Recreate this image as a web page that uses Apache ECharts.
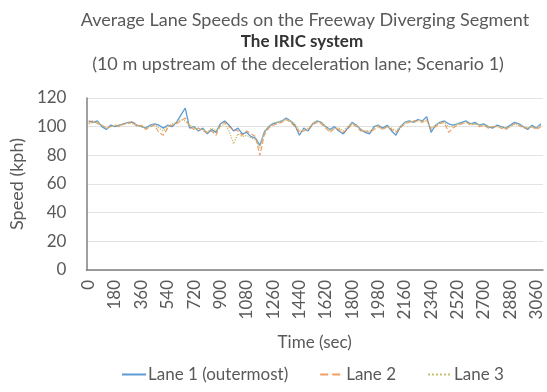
<!DOCTYPE html>
<html>
<head>
<meta charset="utf-8">
<script src="https://cdn.jsdelivr.net/npm/echarts@6/dist/echarts.min.js"></script>
<style>
  html, body { margin: 0; padding: 0; background: #fff; }
  #chart { width: 547px; height: 392px; }
</style>
</head>
<body>
<div id="chart"></div>
<script>
// Time axis: one sample every 30 s
const times = [];
for (let t = 0; t <= 3090; t += 30) times.push(String(t));

const yTicks = [0, 20, 40, 60, 80, 100, 120];

// Average speed per lane (kph)
const lane1 = [104,103,104,100,98,101,100,101,102,103,103,101,100,99,101,102,101,99,101,100,
  103,108,113,99,100,97,99,95,98,96,102,104,101,97,99,95,96,93,92,87,
  96,100,102,103,104,106,104,101,94,99,97,102,104,103,100,98,100,97,95,99,
  103,101,98,96,95,100,101,99,101,97,94,100,103,104,103,105,104,107,96,101,
  103,104,102,101,102,103,104,102,103,101,102,100,99,101,100,99,101,103,102,100,
  98,101,99,102];

const lane2 = [103,104,102,101,99,100,101,100,102,102,104,100,101,98,100,101,96,94,99,101,
  102,104,106,100,98,99,97,96,97,94,101,103,100,98,97,94,97,95,93,80,
  94,99,101,102,103,105,103,100,96,97,98,101,103,102,99,96,99,98,96,98,
  102,100,97,97,96,98,100,98,100,98,96,99,102,103,104,104,103,105,98,100,
  102,103,96,99,101,102,103,101,102,100,101,99,100,100,99,98,100,102,101,99,
  99,100,98,100];

const lane3 = [102,103,103,101,99,100,101,101,102,103,102,101,100,99,100,102,99,97,100,102,
  103,105,104,101,99,98,98,96,99,97,100,102,97,88,95,93,94,92,91,85,
  97,100,103,103,104,105,104,102,97,98,99,102,104,103,100,97,99,99,97,100,
  102,101,98,97,97,99,101,98,100,99,97,100,102,104,103,104,104,104,99,101,
  103,103,100,100,102,102,103,102,102,101,101,100,100,100,100,99,100,102,101,100,
  99,100,99,101];

const FONT = 'Lato';
const TXT = '#595959';

const chart = echarts.init(document.getElementById('chart'), null, { renderer: 'canvas' });

chart.setOption({
  animation: false,
  backgroundColor: '#ffffff',
  textStyle: { fontFamily: FONT },
  title: [
    { text: 'Average Lane Speeds on the Freeway Diverging Segment', left: 300, top: 6, textAlign: 'center',
      textStyle: { fontFamily: FONT, fontSize: 18, fontWeight: 'normal', color: TXT } },
    { text: 'The IRIC system', left: 297, top: 28, textAlign: 'center',
      textStyle: { fontFamily: FONT, fontSize: 17, fontWeight: 'bold', color: '#333' } },
    { text: '(10 m upstream of the deceleration lane; Scenario 1)', left: 293, top: 50, textAlign: 'center',
      textStyle: { fontFamily: FONT, fontSize: 18, fontWeight: 'normal', color: TXT } }
  ],
  legend: {
    bottom: 4, left: 116, itemGap: 31, itemWidth: 24, itemHeight: 10,
    itemStyle: { opacity: 0 },
    textStyle: { fontFamily: FONT, fontSize: 17, color: TXT, padding: [0, 0, 0, -3] },
    data: ['Lane 1 (outermost)', 'Lane 2', 'Lane 3']
  },
  grid: { left: 83, right: 4, top: 98, bottom: 122, containLabel: false },
  xAxis: {
    type: 'category',
    data: times,
    boundaryGap: true,
    name: 'Time (sec)',
    nameLocation: 'middle',
    nameGap: 64,
    nameTextStyle: { fontFamily: FONT, fontSize: 17, color: TXT },
    axisLine: { lineStyle: { color: '#7f7f7f', width: 1.5 } },
    axisTick: { show: false },
    axisLabel: { interval: 5, rotate: 90, fontSize: 17, color: TXT, margin: 10, fontFamily: FONT },
    splitLine: { show: false }
  },
  yAxis: {
    type: 'value',
    min: yTicks[0], max: yTicks[yTicks.length - 1], interval: 20,
    name: 'Speed (kph)',
    nameLocation: 'middle',
    nameGap: 55,
    nameTextStyle: { fontFamily: FONT, fontSize: 18, color: TXT },
    axisLine: { show: true, lineStyle: { color: '#7f7f7f', width: 1.5 } },
    axisTick: { show: false },
    axisLabel: { fontSize: 17, color: TXT, margin: 20, fontFamily: FONT },
    splitLine: { lineStyle: { color: '#e3e3e3', width: 1 } }
  },
  series: [
    { name: 'Lane 1 (outermost)', type: 'line', data: lane1, symbol: 'none',
      lineStyle: { color: '#5B9BD5', width: 1.3 }, itemStyle: { color: '#5B9BD5' } },
    { name: 'Lane 2', type: 'line', data: lane2, symbol: 'none',
      lineStyle: { color: '#ED7D31', width: 1.2, type: 'dashed', opacity: 0.75 }, itemStyle: { color: '#ED7D31' } },
    { name: 'Lane 3', type: 'line', data: lane3, symbol: 'none',
      lineStyle: { color: '#C9BE6E', width: 1.3, type: 'dotted' }, itemStyle: { color: '#C9BE6E' } }
  ]
});
</script>
</body>
</html>
